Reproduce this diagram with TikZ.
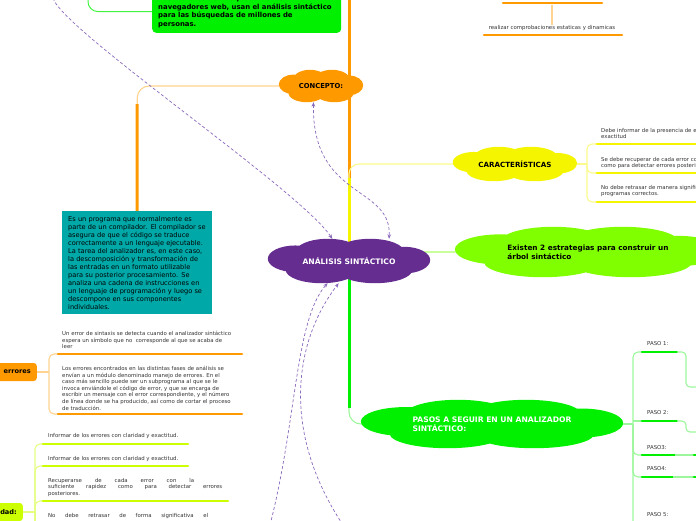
\documentclass[tikz,border=0pt]{standalone}
\usepackage{fontspec}
\setmainfont{DejaVu Sans}
\usetikzlibrary{arrows.meta,positioning,calc,backgrounds}

\definecolor{mporange}{HTML}{FF9900}
\definecolor{mplightorange}{HTML}{FFD490}
\definecolor{mpyellow}{HTML}{F5F500}
\definecolor{mplightyellow}{HTML}{FAFA8C}
\definecolor{mplime}{HTML}{80FF00}
\definecolor{mplightlime}{HTML}{C8FF9A}
\definecolor{mpgreen}{HTML}{00F000}
\definecolor{mplightgreen}{HTML}{9CF79C}
\definecolor{mpteal}{HTML}{00A8A8}
\definecolor{mppurple}{HTML}{662D91}
\definecolor{mpchart}{HTML}{CCFF00}
\definecolor{mplightchart}{HTML}{E4FF80}
\definecolor{mprel}{HTML}{8A68BC}
\definecolor{mptext}{HTML}{333333}

% cloud made of overlapping ellipses, filling the box of node #1
\newcommand\puffs[2]{%
  \fill[#2] let \p1=(#1.south west), \p2=(#1.north east), \n1={\x2-\x1}, \n2={\y2-\y1} in
    ({\x1+0.17*\n1},{\y1+0.55*\n2}) ellipse [x radius={0.17*\n1*1pt}, y radius={0.30*\n2*1pt}]
    ({\x1+0.37*\n1},{\y1+0.70*\n2}) ellipse [x radius={0.20*\n1*1pt}, y radius={0.30*\n2*1pt}]
    ({\x1+0.63*\n1},{\y1+0.70*\n2}) ellipse [x radius={0.21*\n1*1pt}, y radius={0.30*\n2*1pt}]
    ({\x1+0.84*\n1},{\y1+0.52*\n2}) ellipse [x radius={0.16*\n1*1pt}, y radius={0.30*\n2*1pt}]
    ({\x1+0.33*\n1},{\y1+0.30*\n2}) ellipse [x radius={0.22*\n1*1pt}, y radius={0.30*\n2*1pt}]
    ({\x1+0.66*\n1},{\y1+0.30*\n2}) ellipse [x radius={0.23*\n1*1pt}, y radius={0.30*\n2*1pt}]
    ({\x1+0.50*\n1},{\y1+0.50*\n2}) ellipse [x radius={0.38*\n1*1pt}, y radius={0.35*\n2*1pt}];}

\begin{document}
\begin{tikzpicture}[x=1pt,y=-1pt,
  every node/.style={inner sep=0pt},
  cloudy/.style={align=left, font=\bfseries\fontsize{7.4}{8.6}\selectfont},
  note/.style={font=\fontsize{5.4}{6.6}\selectfont, text=mptext, align=left, anchor=north west},
  tag/.style={rounded corners=3pt, anchor=east, minimum height=18pt, align=right, inner xsep=6pt,
    font=\bfseries\fontsize{6.6}{8}\selectfont},
  bar/.style={line width=2.6pt, line cap=round},
  twig/.style={line width=1.1pt},
  trunk/.style={line width=3pt},
  rel/.style={mprel, line width=.7pt, dash pattern=on 3pt off 2.2pt, -{Stealth[length=4.5pt,width=3.6pt]}}]
\useasboundingbox (0,0) rectangle (696,520);
\clip (0,0) rectangle (696,520);

\node[fill=mpgreen, rounded corners=4pt, anchor=south west, text width=177pt, inner xsep=6pt, inner ysep=5pt,
  align=left, font=\bfseries\fontsize{6.9}{8.5}\selectfont] (motores) at (152,33)
  {Los motores de búsqueda de los\\navegadores web, usan el análisis sintáctico\\para las búsquedas de millones de\\personas.};
\node[fill=mpteal, anchor=north west, text width=138pt, inner xsep=6pt, inner ysep=5pt, align=left,
  font=\fontsize{6.6}{8}\selectfont] (definicion) at (62,211)
  {Es un programa que normalmente es\\parte de un compilador. El compilador se\\asegura de que el código se traduce\\correctamente a un lenguaje ejecutable.\\La tarea del analizador es, en este caso,\\la descomposición y transformación de\\las entradas en un formato utilizable\\para su posterior procesamiento. Se\\analiza una cadena de instrucciones en\\un lenguaje de programación y luego se\\descompone en sus componentes\\individuales.};

\node[cloudy, minimum width=84pt, minimum height=32pt, font=\bfseries\fontsize{6.8}{8}\selectfont] (concepto) at (321,86) {CONCEPTO:};
\node[cloudy, text=white, minimum width=162pt, minimum height=44pt,
  font=\bfseries\fontsize{7.6}{8.6}\selectfont] (analisis) at (349,261) {ANÁLISIS SINTÁCTICO};
\node[cloudy, minimum width=124pt, minimum height=34pt, font=\bfseries\fontsize{7.1}{8}\selectfont] (caract) at (515,164) {CARACTERÍSTICAS};
\node[cloudy, minimum width=266pt, minimum height=50pt, font=\bfseries\fontsize{7.3}{8.8}\selectfont] (estrategias) at (588,252)
  {Existen 2 estrategias para construir un\\árbol sintáctico};
\node[cloudy, text=white, minimum width=262pt, minimum height=48pt, font=\bfseries\fontsize{7.6}{8.8}\selectfont] (pasos) at (492,424)
  {PASOS A SEGUIR EN UN ANALIZADOR\\SINTÁCTICO:};

\node[note, anchor=center] (comprobar) at (552,28) {realizar comprobaciones estaticas y dinamicas};
\node[tag, fill=mporange, text width=50pt] (errores) at (37,372) {errores};
\node[tag, fill=mpchart, text width=40pt] (dad) at (23,512) {dad:};

\node[note] (aviso1) at (601,128) {Debe informar de la presencia de errores con claridad y\\exactitud};
\node[note] (aviso2) at (601,157) {Se debe recuperar de cada error con la suficiente rapidez\\como para detectar errores posteriores.};
\node[note] (aviso3) at (601,185) {No debe retrasar de manera significativa el procesamiento de\\programas correctos.};

\node[note] (sintaxis) at (62,331) {Un error de sintaxis se detecta cuando el analizador sintáctico\\espera un símbolo que no\ \ corresponde al que se acaba de\\leer};
\node[note] (manejo) at (62,366) {Los errores encontrados en las distintas fases de análisis se\\envían a un módulo denominado manejo de errores. En el\\caso más sencillo puede ser un subprograma al que se le\\invoca enviándole el código de error, y que se encarga de\\escribir un mensaje con el error correspondiente, y el número\\de línea donde se ha producido, así como de cortar el proceso\\de traducción.};

\node[note] (claridad1) at (48,433) {Informar de los errores con claridad y exactitud.};
\node[note] (claridad2) at (48,456) {Informar de los errores con claridad y exactitud.};
\node[note] (recuperarse) at (48,478) {\makebox[146pt][s]{Recuperarse de cada error con la}\\\makebox[174pt][s]{suficiente rapidez como para detectar errores}\\posteriores.};
\node[note] (retrasar) at (48,513) {\makebox[160pt][s]{No debe retrasar de forma significativa el}};

\node[note, anchor=west] (paso1) at (647,344) {PASO 1:};
\node[note, anchor=west] (paso2) at (647,413) {PASO 2:};
\node[note, anchor=west] (paso3) at (647,448) {PASO3:};
\node[note, anchor=west] (paso4) at (647,469) {PASO4:};
\node[note, anchor=west] (paso5) at (647,515) {PASO 5:};

\coordinate (cima) at (349,-5);
\coordinate (arriba) at (88,-5);
\coordinate (cj) at (587,164);
\coordinate (ej) at (49,372);
\coordinate (dj) at (35,512);
\coordinate (pj) at (633,424);

\begin{pgfonlayer}{background}
\draw[mporange, trunk] (analisis.center) -- (cima);
\draw[mplightyellow, twig, rounded corners=10pt] (analisis.center) |- (caract.west);
\draw[mpyellow, trunk] (analisis.center) -- (349,178);
\draw[mplightlime, twig] (analisis.center |- estrategias.west) -- (estrategias.west);
\draw[mplightgreen, twig, rounded corners=12pt] (analisis.center) |- (pasos.west);
\draw[mpgreen, trunk] (analisis.center) -- (349,408);
\draw[mplightorange, twig, rounded corners=12pt] (concepto.west) -| (definicion.north);
\draw[mporange, trunk] (137,104) -- (definicion.north);
\draw[mpgreen!75, line width=1pt, rounded corners=10pt] (arriba) |- (motores.west);
\puffs{concepto}{mporange}
\puffs{analisis}{mppurple}
\puffs{caract}{mpyellow}
\puffs{estrategias}{mplime}
\puffs{pasos}{mpgreen}
\end{pgfonlayer}

\draw[mporange, bar] (503,3) -- (602,3);
\draw[mplightorange, twig] (552,5) -- (comprobar.north);
\draw[mporange, bar] (484,35) -- (622,35);

\draw[mplightyellow, twig] (caract.east) -- (cj);
\foreach \y in {144,173,202}
  \draw[mplightyellow, twig, rounded corners=5pt] (cj) |- (597,\y);
\foreach \y in {144,173,202}
  \draw[mpyellow, bar] (597,\y) -- (710,\y);

\draw[mplightorange, twig] (errores.east) -- (ej);
\foreach \y in {354,414}
  \draw[mplightorange, twig, rounded corners=5pt] (ej) |- (58,\y);
\draw[mporange, bar] (58,354) -- (242,354);
\draw[mporange, bar] (58,414) -- (242,414);

\draw[mplightchart, twig] (dad.east) -- (dj);
\foreach \y in {444,466,501}
  \draw[mplightchart, twig, rounded corners=5pt] (dj) |- (43,\y);
\draw[mplightchart, twig] (dj) -- (35,530);
\draw[mpchart, bar] (43,444) -- (188,444);
\draw[mpchart, bar] (43,466) -- (188,466);
\draw[mpchart, bar] (43,501) -- (228,501);

\draw[mplightgreen, twig] (pasos.east) -- (pj);
\draw[mplightgreen, twig, rounded corners=5pt] (pj) |- (642,352);
\draw[mplightgreen, twig] (633,421) -- (642,421);
\foreach \y in {455,477,530}
  \draw[mplightgreen, twig, rounded corners=5pt] (pj) |- (642,\y);
\draw[mpgreen, bar] (642,352) -- (677,352);
\draw[mpgreen, bar] (642,421) -- (677,421);
\draw[mpgreen, bar] (642,455) -- (675,455);
\draw[mpgreen, bar] (642,477) -- (673,477);
\draw[mplightgreen, twig, rounded corners=4pt] (677,352) -| (686,387) -- (700,387);
\draw[mplightgreen, twig, rounded corners=4pt] (677,421) -| (686,432) -- (700,432);
\draw[mplightgreen, twig] (675,455) -- (694,455);
\draw[mplightgreen, twig] (673,477) -- (694,477);
\draw[mpgreen, bar] (694,455) -- (705,455);
\draw[mpgreen, bar] (694,477) -- (705,477);

\coordinate (arribaizq) at (53,-2);
\coordinate (abajo1) at (270,525);
\coordinate (abajo2) at (343,525);
\draw[rel] (arribaizq) .. controls (62,30) and (300,190) .. (analisis.127);
\draw[rel, {Stealth[length=4.5pt,width=3.6pt]}-{Stealth[length=4.5pt,width=3.6pt]}] (concepto.245) .. controls (312,200) and (392,185) .. (analisis.29);
\draw[rel] (abajo1) .. controls (297,420) and (295,320) .. (analisis.226);
\draw[rel] (abajo2) .. controls (280,430) and (295,340) .. (analisis.245);
\end{tikzpicture}
\end{document}
